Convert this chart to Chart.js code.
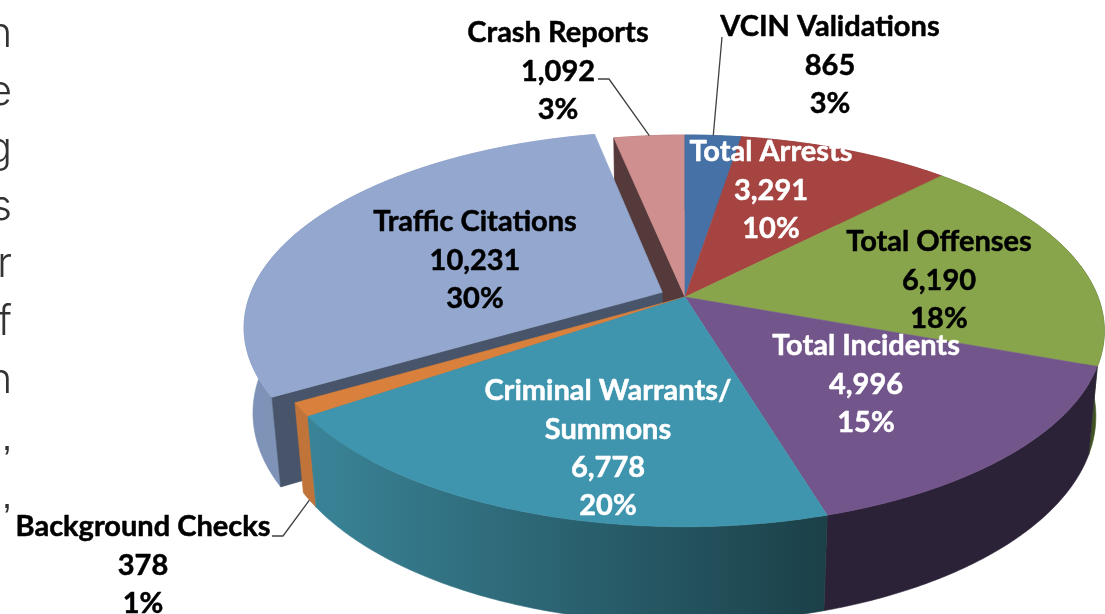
<!DOCTYPE html>
<html><head><meta charset="utf-8">
<style>html,body{margin:0;padding:0;background:#fff;overflow:hidden}canvas{display:block}</style>
<script src="https://cdn.jsdelivr.net/npm/chart.js@4"></script>
</head><body><canvas id="c" width="1105" height="614"></canvas>
<script>
// --- data ---
const categories = ["VCIN Validations","Total Arrests","Total Offenses","Total Incidents","Criminal Warrants/\nSummons","Background Checks","Traffic Citations","Crash Reports"];
const counts = [865,3291,6190,4996,6778,378,10231,1092];
const countLabels = ["865","3,291","6,190","4,996","6,778","378","10,231","1,092"];
const percentLabels = ["3%","10%","18%","15%","20%","1%","30%","3%"];
const clippedParagraphEnds = ["n","e","g","s","r","f","n",",",","];

// --- styling ---
const topColors = ["#4571a6","#a64442","#88a54c","#72558b","#3f95ad","#d8803c","#93a7cf","#ce8f8e"];
const wallStart = ["#365a85","#7d3130","#4a6026","#2c2238","#3a8498","#c0743a","#7d92b6","#9c6a69"];
const wallEnd   = ["#365a85","#7d3130","#3f5220","#2c2238","#1b4048","#c0743a","#8a9ec2","#9c6a69"];
const sideColors = ["#2e4a6c","#5a2b2a","#445a24","#2c2238","#2a6472","#b06a32","#475469","#553a3b"];
const labelColors = ["#000","#fff","#000","#fff","#fff","#000","#000","#000"];
const labelAnchors = [[830,27],[771,152],[939,242],[866,346],[608,391],[143,527],[475,222],[558,33]];
const paintOrder = [7,6,0,1,2,3,5,4];
const explodePx = [0,0,0,0,0,0,18,0];

// --- projection of the pie's plane ---
const apexX=685, apexY=297, A=413, B=190, P=0.173, Q=0.02, H=86;
function proj(u,v,z){const w=1-P*v+Q*z;return [apexX+A*u/w, apexY+(B*v+H*z)/w];}
function polar(th,dx,dy,r,z){return proj(dx+r*Math.sin(th),dy-r*Math.cos(th),z);}
function tracePts(ctx,pts){ctx.beginPath();pts.forEach((p,i)=>i?ctx.lineTo(p[0],p[1]):ctx.moveTo(p[0],p[1]));ctx.closePath();}
function fillPts(ctx,pts,style){tracePts(ctx,pts);ctx.fillStyle=style;ctx.strokeStyle=style;ctx.lineWidth=0.6;ctx.fill();ctx.stroke();}

const pie3d = {
  id:'pie3d',
  beforeDatasetsDraw(chart){
    const ctx=chart.ctx, arcs=chart.getDatasetMeta(0).data;
    const geo=arcs.map(a=>{
      const s=a.startAngle+Math.PI/2,e=a.endAngle+Math.PI/2,m=(s+e)/2;
      const d=(a.options.offset||0)/a.outerRadius;
      return {s,e,m,dx:d*Math.sin(m),dy:-d*Math.cos(m),off:d};
    });
    const n=geo.length;
    ctx.save();
    paintOrder.forEach(i=>{
      const g=geo[i],steps=Math.max(2,Math.ceil((g.e-g.s)/0.01));
      const rim=z=>{const r=[];for(let k=0;k<=steps;k++)r.push(polar(g.s+(g.e-g.s)*k/steps,g.dx,g.dy,1,z));return r;};
      const t=rim(0),b=rim(1);
      // outer wall
      const xs=t.concat(b).map(p=>p[0]);
      const gr=ctx.createLinearGradient(Math.min(...xs),0,Math.max(...xs),0);
      gr.addColorStop(0,wallStart[i]);gr.addColorStop(1,wallEnd[i]);
      fillPts(ctx,t.concat(b.slice().reverse()),gr);
      // radial walls that a neighbouring exploded slice exposes
      const prev=geo[(i+n-1)%n],next=geo[(i+1)%n];
      const apex0=proj(g.dx,g.dy,0),apex1=proj(g.dx,g.dy,1);
      if(prev.off!==g.off && -Math.sin(g.s)>0) fillPts(ctx,[apex0,t[0],b[0],apex1],sideColors[i]);
      if(next.off!==g.off && Math.sin(g.e)>0) fillPts(ctx,[apex0,t[steps],b[steps],apex1],sideColors[i]);
      // top face
      fillPts(ctx,[apex0].concat(t),topColors[i]);
    });
    // leader lines, anchored on the rim of their slices
    ctx.strokeStyle='#404040';ctx.lineWidth=1.3;ctx.lineJoin='round';
    const line=pts=>{ctx.beginPath();pts.forEach((p,i)=>i?ctx.lineTo(p[0],p[1]):ctx.moveTo(p[0],p[1]));ctx.stroke();};
    line([[722,37],polar(geo[0].m,0,0,1,0)]);
    line([[598,79],[609,79],polar(geo[7].m,0,0,1,0)]);
    line([[272,536],[283,536],polar(geo[5].m,0,0,1,1)]);
    // data labels
    ctx.textAlign='center';ctx.textBaseline='middle';ctx.font='bold 29px Lato';ctx.lineJoin='round';
    categories.forEach((name,i)=>{
      const lines=name.split("\n").concat(countLabels[i],percentLabels[i]);
      ctx.fillStyle=labelColors[i];ctx.strokeStyle=labelColors[i];ctx.lineWidth=0.5;
      lines.forEach((l,k)=>{
        const x=labelAnchors[i][0],y=labelAnchors[i][1]+k*38.2;
        ctx.fillText(l,x,y);ctx.strokeText(l,x,y);
      });
    });
    // paragraph text cut off at the left edge
    ctx.textAlign='right';ctx.textBaseline='alphabetic';ctx.fillStyle='#333';
    clippedParagraphEnds.forEach((c,k)=>{
      const isComma=c===",";
      ctx.font=isComma?'400 36px "Liberation Sans"':'300 41px Inter';
      ctx.fillText(c,isComma?12:12,47+k*57.6);
    });
    ctx.restore();
    return false;
  }
};

new Chart(document.getElementById('c').getContext('2d'),{
  type:'pie',
  data:{labels:categories.map(s=>s.replace("\n"," ")),datasets:[{data:counts,backgroundColor:topColors,offset:explodePx,borderWidth:0}]},
  options:{responsive:false,animation:false,events:[],layout:{padding:0},
    plugins:{legend:{display:false},tooltip:{enabled:false},title:{display:false}}},
  plugins:[pie3d]
});
</script></body></html>
